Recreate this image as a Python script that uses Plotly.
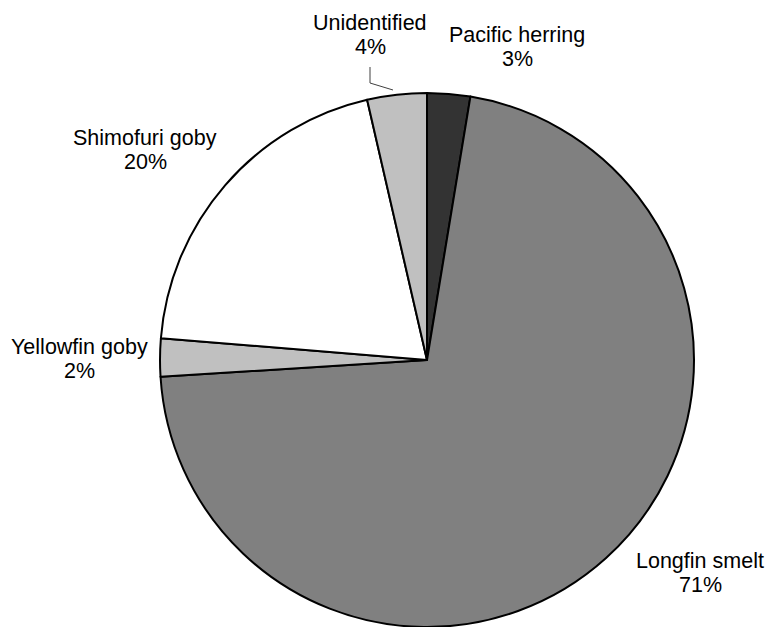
import plotly.graph_objects as go

species = ["Pacific herring", "Longfin smelt", "Yellowfin goby", "Shimofuri goby", "Unidentified"]
shares = [2.6, 71.4, 2.3, 20.1, 3.6]
colors = ["#333333", "#808080", "#c0c0c0", "#ffffff", "#c0c0c0"]

# label anchor points (pixels in a 767x627 canvas)
label_px = [(517, 47), (700, 573), (79, 359), (145, 150), (370, 35)]

W, H = 767, 627
total = sum(shares)
FONT = dict(family="Liberation Sans, Arial, sans-serif", size=21.5, color="black")

fig = go.Figure(go.Pie(
    labels=species,
    values=shares,
    marker=dict(colors=colors, line=dict(color="black", width=2)),
    sort=False,
    direction="clockwise",
    rotation=0,
    textinfo="none",
    hoverinfo="label+percent",
    showlegend=False,
    domain=dict(x=[160 / W, 694 / W], y=[0, 534 / H]),
))

for name, v, (px, py) in zip(species, shares, label_px):
    fig.add_annotation(
        x=px / W, y=1 - (py - 12) / H, xref="paper", yref="paper",
        text=name, showarrow=False, xanchor="center", yanchor="middle", font=FONT,
    )
    fig.add_annotation(
        x=px / W, y=1 - (py + 12) / H, xref="paper", yref="paper",
        text=f"{round(v / total * 100)}%", showarrow=False,
        xanchor="center", yanchor="middle", font=FONT,
    )

# leader line for Unidentified
fig.add_shape(
    type="path", xref="paper", yref="paper",
    path=f"M {370/W} {1-67/H} L {370/W} {1-83/H} L {393/W} {1-90/H}",
    line=dict(color="#404040", width=1),
)

fig.update_layout(
    width=W, height=H,
    margin=dict(l=0, r=0, t=0, b=0),
    paper_bgcolor="white", plot_bgcolor="white",
)

fig.write_html("out.html", config={"displayModeBar": False},
               post_script="document.body.style.margin='0';")
